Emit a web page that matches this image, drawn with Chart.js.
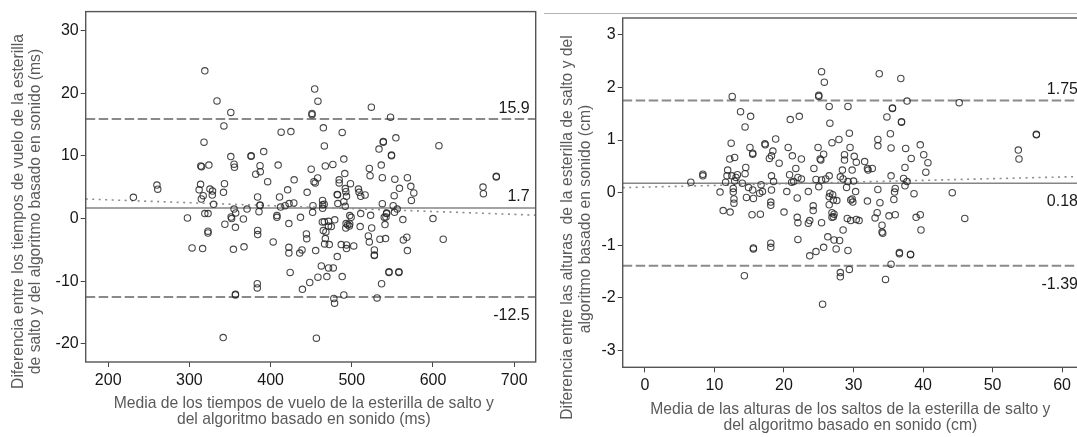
<!DOCTYPE html>
<html><head><meta charset="utf-8">
<script src="https://cdn.jsdelivr.net/npm/chart.js@4.4.1/dist/chart.umd.min.js"></script>
<style>
html,body{margin:0;padding:0;background:#fff;overflow:hidden;width:1077px;height:437px;position:relative;}
#c1{position:absolute;left:0;top:0;}
#c2{position:absolute;left:540px;top:0;}
</style></head><body>
<canvas id="c1" width="540" height="437"></canvas>
<canvas id="c2" width="560" height="437"></canvas>
<script>
// ---------- Chart 1: flight times (ms) ----------
const timeMean = [319,334,351,342.5,318,314,315,324,351,355,355.5,376,376,391.5,387,381.7,387.3,396.4,413,425,409.3,429,421,411,384,445,450,453.4,455,458,454.3,458.3,451,451,465,466.2,467.4,464,260,261,231,313.8,312,317,314.7,325.3,328.5,328.2,343.2,342,476.7,488.2,490.2,491.4,484.5,484.5,498.4,492,492.6,482,482.5,493.5,508.2,509,511,516.4,521.6,522.5,533.5,538.8,538.8,554.3,548.9,548.9,536.3,537.6,553,568.5,558.7,572.7,576.4,573.4,552.2,607.3,661.6,662.1,678,678,524.1,547.7,
464,466,329.8,319,323,297.6,355,351.4,343.7,366.5,371,387,387,385.7,407.8,407.8,422.5,436.8,412.3,417.9,422.8,428.6,452.2,451.8,466.2,537.6,551,555.9,552.6,600,562.9,542.8,542.1,523.2,482.8,490.2,491.9,497.5,464.1,356.7,322.9,322.9,384.1,384.1,444.1,463.7,464.9,471.4,493,495,497,492.6,497.5,499.2,474.7,468.1,510.3,524.5,540.9,540,352,357,511,471.3,479,543,
303.3,316.3,354.2,367.3,403.2,422.5,422.5,435.9,438.7,444.5,455.5,466.5,467.4,424.1,462.5,458.3,448.2,439.2,469.3,383.6,383.6,356.7,356.7,341.6,456.4,472.3,487,493.5,493.5,502.4,482.1,471.4,477.2,488.2,477.9,478.8,490.2,520.4,521.6,534.7,541.6,527.8,527.8,527.8,563.5,567.8,568.5,545.8,545.8,558,558,536.7,531.1,612.6];
const timeDiff = [23.6,18.8,16.95,14.8,12.2,8.4,8.3,8.55,9.9,8.7,8.2,10.05,9.95,10.7,8.45,7.1,7.5,5.9,13.8,13.9,8.55,6.2,4.6,3.45,3.45,4.2,7.9,5.9,5.7,6.5,20.7,18.75,16.8,16.6,14.5,11.6,8.4,2.9,5.36,4.7,3.4,5.47,4.6,3.67,3.13,4.72,4.4,3.76,5.58,4.2,8.66,13.76,9.5,7.2,6.2,5.7,5.58,4.8,4.3,3.87,3.8,3.56,4.72,4.2,3.56,3.77,8.0,6.86,11.1,12.3,12.2,12.9,10.15,10.05,8.55,6.54,6.3,6.54,4.83,5.15,4.1,2.9,3.67,11.64,5.04,3.99,6.75,6.65,17.8,16.2,
2.2,2.3,2.28,0.8,0.8,0.1,1.53,0.26,-0.9,-0.06,1.53,2.17,2.1,1.1,0.48,0.2,-0.8,0.2,1.85,2.07,2.4,2.49,2.07,1.0,-0.5,2.39,2.07,1.53,1.0,0,-0.16,0.8,0.26,0.53,2.4,2.7,1.96,0.48,1.64,-1.39,-2.0,-2.3,-1.9,-2.55,-2.45,-0.54,-1.91,-0.43,-0.8,-1.0,-1.2,-1.5,-0.86,0.2,-1.28,-2.13,-1.28,-1.5,-0.96,0.2,0.0,0.9,0.8,-1.2,-0.2,0.9,
-4.68,-4.78,-4.9,-4.5,-3.73,-4.58,-5.5,-5.5,-5.0,-3.2,-5.1,-4.05,-3.19,-8.6,-7.56,-9.36,-10.2,-11.3,-9.25,-10.4,-11.07,-12.1,-12.2,-19.0,-19.1,-4.15,-4.15,-4.2,-4.78,-4.37,-6.06,-7.88,-7.88,-9.25,-12.76,-13.5,-12.2,-2.77,-3.73,-3.3,-3.19,-5.0,-5.8,-5.9,-3.4,-2.98,-5.1,-8.6,-8.5,-8.6,-8.5,-10.4,-12.66,-3.3];
const timeLimits = [15.9, 1.7, -12.5];
const timeLimitLabels = ['15.9', '1.7', '-12.5'];
const timeTrendX = [172.3, 726.5];
const timeTrendY = [3.13, 0.55];
const timeXTicks = [200, 300, 400, 500, 600, 700];
const timeYTicks = [-20, -10, 0, 10, 20, 30];
const timeXTitle = ['Media de los tiempos de vuelo de la esterilla de salto y', 'del algoritmo basado en sonido (ms)'];
const timeYTitle = ['Diferencia entre los tiempos de vuelo de la esterilla', 'de salto y del algoritmo basado en sonido (ms)'];

// ---------- Chart 2: jump heights (cm) ----------
const heightMean = [25.4,25.8,25.0,25.0,12.55,26.5,29.2,26.6,13.75,15.2,14.4,20.9,22.2,29.4,12.4,17.25,17.3,18.8,15.1,15.5,15.5,12.2,12.9,18.4,18.2,17.9,19.3,20.6,22.5,24.9,25.2,25.3,26.9,27.9,29.5,25.7,21.7,24.3,28.7,28.7,28.4,30.1,30.4,29.8,8.33,8.33,6.6,11.9,11.8,12.5,13.3,13.1,12.9,14.5,14.4,18.2,20.8,22.0,22.5,24.6,25.4,26.0,26.5,28.1,28.5,29.2,30.0,10.8,12.7,12.7,12.8,12.8,14.9,15.5,16.7,16.9,18.5,20.4,21.1,21.4,21.9,23.5,25.0,26.6,29.0,30.3,27.1,33.7,36.8,37.7,45.2,35.6,35.6,34.8,36.9,36.9,35.3,33.5,33.5,35.4,37.5,39.6,40.1,38.3,40.7,40.4,37.4,31.6,32.0,32.1,32.7,35.4,37.2,37.7,37.4,36.0,35.9,33.5,38.7,44.2,53.7,53.8,56.3,56.3,11.25,12.25,14.6,15.6,16.5,15.4,16.6,18.2,18.1,18.1,20.0,21.9,22.0,23.5,23.7,24.2,24.2,25.4,26.5,27.0,27.6,26.5,26.9,27.2,26.9,27.1,29.6,29.8,29.9,29.1,29.6,30.4,30.8,28.5,26.3,27.2,28.0,22.0,27.5,29.2,25.7,24.6,23.7,15.6,15.6,18.1,18.1,14.3,29.4,28.1,28.1,25.55,32.0,33.8,35.8,33.4,33.1,34.1,34.1,34.2,35.1,36.0,39.0,39.6,39.7,46.0,36.6,36.6,38.2,38.2,35.4,34.6,21.2,14.0,11.6];
const heightDiff = [2.30,2.10,1.85,1.83,1.83,1.64,1.64,1.32,1.54,1.45,1.25,1.39,1.45,1.13,0.94,0.93,0.91,1.02,0.86,0.75,0.73,0.64,0.67,0.79,0.70,0.65,0.56,0.86,0.64,0.86,0.64,0.62,0.95,1.01,0.86,0.73,0.46,0.46,0.72,0.62,0.43,0.69,0.58,0.43,0.35,0.32,0.2,0.43,0.32,0.32,0.34,0.29,0.22,0.48,0.36,0.32,0.34,0.29,0.26,0.25,0.24,0.26,0.32,0.30,0.26,0.21,0.22,0.01,0.08,0.01,-0.12,-0.2,0.1,0.05,0.15,0.02,0.21,0.02,0.2,0.21,-0.1,0.02,0.11,-0.01,0.1,0.02,-0.14,2.26,2.17,1.74,1.71,1.61,1.60,1.44,1.35,1.34,1.12,1.01,0.89,0.85,0.84,0.91,0.72,0.65,0.57,0.39,0.48,0.59,0.46,0.43,0.46,0.32,0.27,0.21,0.13,0.08,0.01,0.06,-0.02,0.0,0.81,0.64,1.11,1.10,-0.34,-0.37,-0.09,-0.11,-0.01,-0.42,-0.41,0.05,-0.18,-0.24,-0.37,-0.47,-0.57,-0.58,-0.53,-0.25,-0.34,-0.57,-0.08,-0.04,-0.15,-0.23,-0.38,-0.41,-0.47,-0.46,-0.14,-0.12,-0.18,-0.49,-0.53,-0.51,-0.53,-0.71,-0.84,-0.9,-0.91,-0.89,-1.07,-1.1,-1.04,-1.12,-1.2,-1.05,-1.07,-0.96,-1.04,-1.58,-1.46,-1.52,-1.6,-2.12,-0.16,-0.19,-0.13,-0.38,-0.48,-0.62,-0.75,-0.77,-0.44,-0.42,-0.47,-0.42,-0.71,-0.49,-1.14,-1.16,-1.17,-1.18,-1.36,-1.65,0.70,0.18,0.2];
const heightLimits = [1.75, 0.18, -1.39];
const heightLimitLabels = ['1.75', '0.18', '-1.39'];
const heightTrendX = [-3.2, 63.15];
const heightTrendY = [0.095, 0.308];
const heightXTicks = [0, 10, 20, 30, 40, 50, 60];
const heightYTicks = [-3, -2, -1, 0, 1, 2, 3];
const heightXTitle = ['Media de las alturas de los saltos de la esterilla de salto y', 'del algoritmo basado en sonido (cm)'];
const heightYTitle = ['Diferencia entre las alturas  de la esterilla de salto y del', 'algoritmo basado en sonido (cm)'];

const FONT = '"Liberation Sans", Arial, sans-serif';

function buildChart(canvasId, o) {
  const pts = o.mean.map((x, i) => ({ x: x, y: o.diff[i] }));
  const ds = [{
    type: 'scatter', data: pts, order: 0,
    pointRadius: 3.2, pointBorderWidth: 1.1, pointBorderColor: 'rgba(40,40,40,0.85)',
    pointBackgroundColor: 'rgba(0,0,0,0)', pointHoverRadius: 3.2
  }];
  o.limits.forEach((v, i) => {
    const isMean = i === 1;
    ds.push({
      type: 'line', order: 2, data: [{ x: o.xRange[0], y: v }, { x: o.xRange[1], y: v }],
      borderColor: isMean ? '#858585' : '#8a8a8a', borderWidth: isMean ? 1.6 : 2,
      borderDash: isMean ? [] : [9.5, 3.5], pointRadius: 0, fill: false
    });
  });
  ds.push({
    type: 'line', order: 1, data: o.trendX.map((x, i) => ({ x: x, y: o.trendY[i] })),
    borderColor: '#8c8c8c', borderWidth: 1.6, borderDash: [2, 4.5], pointRadius: 0, fill: false
  });

  const deco = {
    id: 'deco' + canvasId,
    afterDraw(chart) {
      const { ctx, chartArea: a, scales } = chart;
      ctx.save();
      ctx.strokeStyle = '#555'; ctx.lineWidth = 1.4;
      ctx.strokeRect(a.left, a.top, a.right - a.left, a.bottom - a.top);
      if (o.extra) o.extra(ctx, chart);
      ctx.fillStyle = '#1a1a1a';
      ctx.font = '16px ' + FONT;
      ctx.textAlign = 'right'; ctx.textBaseline = 'alphabetic';
      o.limits.forEach((v, i) => {
        const y = scales.y.getPixelForValue(v);
        ctx.fillText(o.limitLabels[i], a.right - 6, o.above[i] ? y - 6.5 : y + 23);
      });
      ctx.fillStyle = '#5a5a5a';
      ctx.font = '15.7px ' + FONT;
      ctx.textAlign = 'center'; ctx.textBaseline = 'middle';
      o.xTitle.forEach((t, i) => ctx.fillText(t, o.xTitlePos[0], o.xTitlePos[1] + i * 16.5));
      o.yTitle.forEach((t, i) => {
        ctx.save();
        ctx.translate(o.yTitlePos[i][0], o.yTitlePos[i][1]);
        ctx.rotate(-Math.PI / 2);
        ctx.fillText(t, 0, 0);
        ctx.restore();
      });
      ctx.restore();
    }
  };

  const tickFont = { family: FONT, size: 16 };
  return new Chart(document.getElementById(canvasId), {
    data: { datasets: ds },
    plugins: [deco],
    options: {
      responsive: false, animation: false, events: [],
      layout: { padding: { left: 0, top: o.area.top, right: o.canvasW - o.area.right, bottom: 0 } },
      plugins: { legend: { display: false }, tooltip: { enabled: false } },
      scales: {
        x: {
          type: 'linear', position: 'bottom', min: o.xRange[0], max: o.xRange[1],
          afterFit: (s) => { s.height = o.canvasH - o.area.bottom; },
          afterBuildTicks: (s) => { s.ticks = o.xTicks.map(v => ({ value: v })); },
          border: { display: false },
          grid: { display: true, drawOnChartArea: false, drawTicks: true, tickLength: 5, tickColor: '#444', tickWidth: 1 },
          ticks: { font: tickFont, color: '#161616', padding: 4, maxRotation: 0, autoSkip: false, callback: (v) => String(v) }
        },
        y: {
          type: 'linear', position: 'left', min: o.yRange[0], max: o.yRange[1],
          afterFit: (s) => { s.width = o.area.left; },
          afterBuildTicks: (s) => { s.ticks = o.yTicks.map(v => ({ value: v })); },
          border: { display: false },
          grid: { display: true, drawOnChartArea: false, drawTicks: true, tickLength: 5, tickColor: '#444', tickWidth: 1 },
          ticks: { font: tickFont, color: '#161616', padding: 2, autoSkip: false, callback: (v) => String(v) }
        }
      }
    }
  });
}

buildChart('c1', {
  mean: timeMean, diff: timeDiff, limits: timeLimits, limitLabels: timeLimitLabels,
  above: [true, true, false], trendX: timeTrendX, trendY: timeTrendY,
  xTicks: timeXTicks, yTicks: timeYTicks, xRange: [172.3, 726.5], yRange: [-22.9, 33.06],
  canvasW: 540, canvasH: 437, area: { left: 85.7, top: 11, right: 538.3, bottom: 362 },
  xTitle: timeXTitle, yTitle: timeYTitle,
  xTitlePos: [303.8, 403.5], yTitlePos: [[18.5, 211.5], [36, 211.5]]
});

buildChart('c2', {
  mean: heightMean, diff: heightDiff, limits: heightLimits, limitLabels: heightLimitLabels,
  above: [true, false, false], trendX: heightTrendX, trendY: heightTrendY,
  xTicks: heightXTicks, yTicks: heightYTicks, xRange: [-3.2, 63.15], yRange: [-3.32, 3.32],
  canvasW: 560, canvasH: 437, area: { left: 82.7, top: 18, right: 544, bottom: 367.3 },
  xTitle: heightXTitle, yTitle: heightYTitle,
  xTitlePos: [310.3, 409.5], yTitlePos: [[28, 227.5], [45.2, 219]],
  extra: (ctx) => {
    ctx.save(); ctx.strokeStyle = '#b5b5b5'; ctx.lineWidth = 1;
    ctx.beginPath(); ctx.moveTo(4, 13.5); ctx.lineTo(560, 13.5); ctx.stroke();
    ctx.restore();
  }
});
</script>
</body></html>
